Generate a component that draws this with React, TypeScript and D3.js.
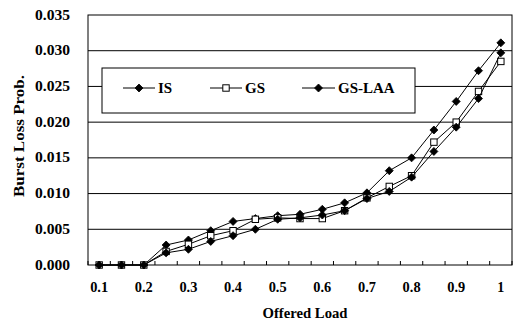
import React from "react";
import * as d3 from "d3";

const loads = ["0.1","0.15","0.2","0.25","0.3","0.35","0.4","0.45","0.5","0.55","0.6","0.65","0.7","0.75","0.8","0.85","0.9","0.95","1"];
const xTickLabels = ["0.1","0.2","0.3","0.4","0.5","0.6","0.7","0.8","0.9","1"];
const yTicks = [0, 0.005, 0.01, 0.015, 0.02, 0.025, 0.03, 0.035];

const isValues = [0, 0, 0, 0.0028, 0.0035, 0.0048, 0.0061, 0.0065, 0.0069, 0.0071, 0.0078, 0.0087, 0.0101, 0.0132, 0.015, 0.0189, 0.0229, 0.0272, 0.0311];
const gsValues = [0, 0, 0, 0.0019, 0.0029, 0.0041, 0.0048, 0.0064, 0.0066, 0.0065, 0.0065, 0.0076, 0.0094, 0.011, 0.0125, 0.0172, 0.02, 0.0243, 0.0285];
const gslaaValues = [0, 0, 0, 0.0017, 0.0022, 0.0033, 0.0041, 0.005, 0.0064, 0.0066, 0.007, 0.0076, 0.0093, 0.0103, 0.0123, 0.0159, 0.0193, 0.0233, 0.0297];

const seriesNames = ["IS", "GS", "GS-LAA"];

const W = 518, H = 323;
const L = 88, R = 512, T = 15, B = 265;
const FONT = "'Liberation Serif', 'Times New Roman', serif";

function Diamond({ x, y }: { x: number; y: number }) {
  const s = 4;
  return <path d={`M${x},${y - s}L${x + s},${y}L${x},${y + s}L${x - s},${y}Z`} fill="#000" stroke="#000" strokeWidth={0.8} />;
}
function Square({ x, y }: { x: number; y: number }) {
  const s = 3.2;
  return <rect x={x - s} y={y - s} width={2 * s} height={2 * s} fill="#fff" stroke="#000" strokeWidth={1} />;
}

export default function App() {
  const x = d3.scaleBand<string>().domain(loads).range([L, R]).padding(0);
  const cx = (c: string) => (x(c) as number) + x.bandwidth() / 2;
  const y = d3.scaleLinear().domain([0, 0.035]).range([B, T]);
  const line = d3.line<number>().x((_, i) => cx(loads[i])).y((v) => y(v));

  const series = [
    { name: seriesNames[0], values: isValues, marker: "d" },
    { name: seriesNames[1], values: gsValues, marker: "s" },
    { name: seriesNames[2], values: gslaaValues, marker: "d" },
  ];

  const boundaries = d3.range(loads.length + 1).map((i) => L + i * x.bandwidth());

  const legend = [
    { name: seriesNames[0], marker: "d", x1: 123, x2: 155, tx: 158 },
    { name: seriesNames[1], marker: "s", x1: 210, x2: 242, tx: 245 },
    { name: seriesNames[2], marker: "d", x1: 302, x2: 335, tx: 338 },
  ];
  const legY = 88;

  return (
    <svg width={W} height={H} style={{ position: "absolute", left: 0, top: 0, background: "#fff" }} fontFamily={FONT}>
      <rect width={W} height={H} fill="#fff" />
      {/* gridlines */}
      {yTicks.slice(1, -1).map((t) => (
        <line key={t} x1={L} x2={R} y1={y(t)} y2={y(t)} stroke="#000" strokeWidth={1} />
      ))}
      {/* frame */}
      <rect x={L} y={T} width={R - L} height={B - T} fill="none" stroke="#000" strokeWidth={1} />
      {/* x ticks */}
      {boundaries.map((b, i) => (
        <line key={i} x1={b} x2={b} y1={B} y2={B - 4} stroke="#000" strokeWidth={1} />
      ))}
      {/* y tick labels */}
      {yTicks.map((t) => (
        <text key={t} x={70} y={y(t) + 4.5} textAnchor="end" fontSize={14} fontWeight="bold" textLength={35} lengthAdjust="spacingAndGlyphs">
          {d3.format(".3f")(t)}
        </text>
      ))}
      {/* x tick labels */}
      {xTickLabels.map((l) => (
        <text key={l} x={cx(l)} y={292} textAnchor="middle" fontSize={14} fontWeight="bold" textLength={l.length > 1 ? 18 : 7} lengthAdjust="spacingAndGlyphs">
          {l}
        </text>
      ))}
      {/* axis titles */}
      <text x={305} y={318} textAnchor="middle" fontSize={14.5} fontWeight="bold" textLength={85} lengthAdjust="spacingAndGlyphs">
        Offered Load
      </text>
      <text transform="translate(24,136) rotate(-90)" textAnchor="middle" fontSize={15} fontWeight="bold" textLength={122} lengthAdjust="spacingAndGlyphs">
        Burst Loss Prob.
      </text>
      {/* legend */}
      <rect x={102} y={68} width={313} height={45} fill="#fff" stroke="#000" strokeWidth={1} />
      {legend.map((e) => (
        <g key={e.name}>
          <line x1={e.x1} x2={e.x2} y1={legY} y2={legY} stroke="#000" strokeWidth={1} />
          {e.marker === "d" ? <Diamond x={(e.x1 + e.x2) / 2} y={legY} /> : <Square x={(e.x1 + e.x2) / 2} y={legY} />}
          <text x={e.tx} y={legY + 5} fontSize={15} fontWeight="bold">{e.name}</text>
        </g>
      ))}
      {/* series */}
      {series.map((s) => (
        <g key={s.name}>
          <path d={line(s.values) as string} fill="none" stroke="#000" strokeWidth={1} />
          {s.values.map((v, i) =>
            s.marker === "d" ? <Diamond key={i} x={cx(loads[i])} y={y(v)} /> : <Square key={i} x={cx(loads[i])} y={y(v)} />
          )}
        </g>
      ))}
    </svg>
  );
}
